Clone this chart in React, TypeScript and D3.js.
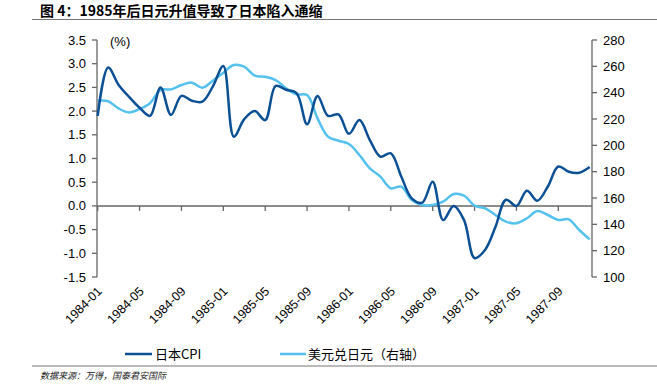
import React from "react";
import * as d3 from "d3";

const months: string[] = [];
for (let y = 1984; y <= 1987; y++) for (let m = 1; m <= 12; m++) months.push(`${y}-${String(m).padStart(2, "0")}`);

const cpi = [1.9, 2.92, 2.55, 2.3, 2.07, 1.9, 2.5, 1.92, 2.32, 2.22, 2.2, 2.52,
  2.95, 1.46, 1.83, 2.0, 1.81, 2.53, 2.45, 2.38, 1.72, 2.32, 1.9, 1.93,
  1.52, 1.81, 1.39, 1.04, 1.11, 0.62, 0.16, 0.07, 0.51, -0.3, 0.0, -0.3,
  -1.1, -0.93, -0.44, 0.13, 0.0, 0.32, 0.11, 0.41, 0.83, 0.72, 0.7, 0.82];

const usdjpy = [234, 233.5, 228, 225, 227.6, 232, 242, 242.5, 245.8, 247.6, 243.8, 249.1,
  255.2, 261, 259.7, 252.9, 252.1, 249.6, 243.3, 238.7, 238.2, 220.5, 206.6, 203.5,
  201, 192.7, 182.5, 176.2, 167.4, 168.6, 158.5, 154.7, 154.7, 157.2, 163, 161.8,
  154.2, 152.2, 147.1, 142, 140.8, 144.6, 150.1, 147.1, 143.3, 143.8, 135.7, 128.6];

const leftTicks = [3.5, 3.0, 2.5, 2.0, 1.5, 1.0, 0.5, 0.0, -0.5, -1.0, -1.5];
const rightTicks = [280, 260, 240, 220, 200, 180, 160, 140, 120, 100];
const xLabelIdx = [0, 4, 8, 12, 16, 20, 24, 28, 32, 36, 40, 44];

const DARK = "#0b4f95";
const LIGHT = "#55c1ee";
const AXIS = "#666666";
const FONT = "Liberation Sans, Arial, sans-serif";
const CJK = "Noto Sans CJK SC, sans-serif";

export default function App() {
  const W = 657, H = 389;
  const x = d3.scaleLinear().domain([0, months.length - 1]).range([97.7, 589.7]);
  const yL = d3.scaleLinear().domain([-1.5, 3.5]).range([277, 40]);
  const yR = d3.scaleLinear().domain([100, 280]).range([277, 40]);
  const lineL = d3.line<number>().x((_, i) => x(i)).y(d => yL(d)).curve(d3.curveCatmullRom.alpha(0.5));
  const lineR = d3.line<number>().x((_, i) => x(i)).y(d => yR(d)).curve(d3.curveCatmullRom.alpha(0.5));
  const axL = 97;
  const axR = 592;
  const y0 = yL(0);
  return (
    <svg width={W} height={H} style={{ position: "absolute", left: 0, top: 0, background: "#fff" }}>
      <text x={40} y={15.5} fontFamily={CJK} fontWeight="bold" fontSize={14} fill="#000">
        图 4：1985年后日元升值导致了日本陷入通缩
      </text>
      <line x1={32} x2={657} y1={19.5} y2={19.5} stroke="#777" strokeWidth={1.2} />

      {/* left axis */}
      <line x1={axL} x2={axL} y1={yL(3.5)} y2={yL(-1.5)} stroke={AXIS} strokeWidth={1.3} />
      {leftTicks.map(t => (
        <g key={"l" + t}>
          <line x1={axL - 5} x2={axL} y1={yL(t)} y2={yL(t)} stroke={AXIS} strokeWidth={1.3} />
          <text x={86} y={yL(t) + 4.5} textAnchor="end" fontFamily={FONT} fontSize={13} fill="#000">
            {t.toFixed(1)}
          </text>
        </g>
      ))}
      <text x={110} y={46} fontFamily={FONT} fontSize={13} fill="#000">(%)</text>

      {/* right axis */}
      <line x1={axR} x2={axR} y1={yR(280)} y2={yR(100)} stroke={AXIS} strokeWidth={1.3} />
      {rightTicks.map(t => (
        <g key={"r" + t}>
          <line x1={axR} x2={axR + 5} y1={yR(t)} y2={yR(t)} stroke={AXIS} strokeWidth={1.3} />
          <text x={603} y={yR(t) + 4.5} textAnchor="start" fontFamily={FONT} fontSize={13} fill="#000">
            {t}
          </text>
        </g>
      ))}

      {/* x axis at zero */}
      <line x1={axL} x2={axR} y1={y0} y2={y0} stroke={AXIS} strokeWidth={1.5} />
      {xLabelIdx.map(i => (
        <line key={"t" + i} x1={x(i)} x2={x(i)} y1={y0} y2={y0 + 5} stroke={AXIS} strokeWidth={1.3} />
      ))}
      {xLabelIdx.map(i => (
        <text key={"x" + i} transform={`translate(${x(i) + 5},${292}) rotate(-45)`} textAnchor="end"
          fontFamily={FONT} fontSize={12.5} fill="#000">
          {months[i]}
        </text>
      ))}

      <path d={lineR(usdjpy) || ""} fill="none" stroke={LIGHT} strokeWidth={2.5} />
      <path d={lineL(cpi) || ""} fill="none" stroke={DARK} strokeWidth={2.5} />

      {/* legend */}
      <line x1={125} x2={152} y1={354} y2={354} stroke={DARK} strokeWidth={2.5} />
      <text x={155} y={359} fontFamily={CJK} fontSize={13} fill="#000">日本CPI</text>
      <line x1={280} x2={306} y1={354} y2={354} stroke={LIGHT} strokeWidth={2.5} />
      <text x={308} y={359} fontFamily={CJK} fontSize={13} fill="#000">美元兑日元（右轴）</text>

      <line x1={32} x2={657} y1={366} y2={366} stroke="#777" strokeWidth={1.2} />
      <text x={40} y={379} fontFamily={CJK} fontStyle="italic" fontSize={9} fill="#222">
        数据来源：万得，国泰君安国际
      </text>
    </svg>
  );
}
